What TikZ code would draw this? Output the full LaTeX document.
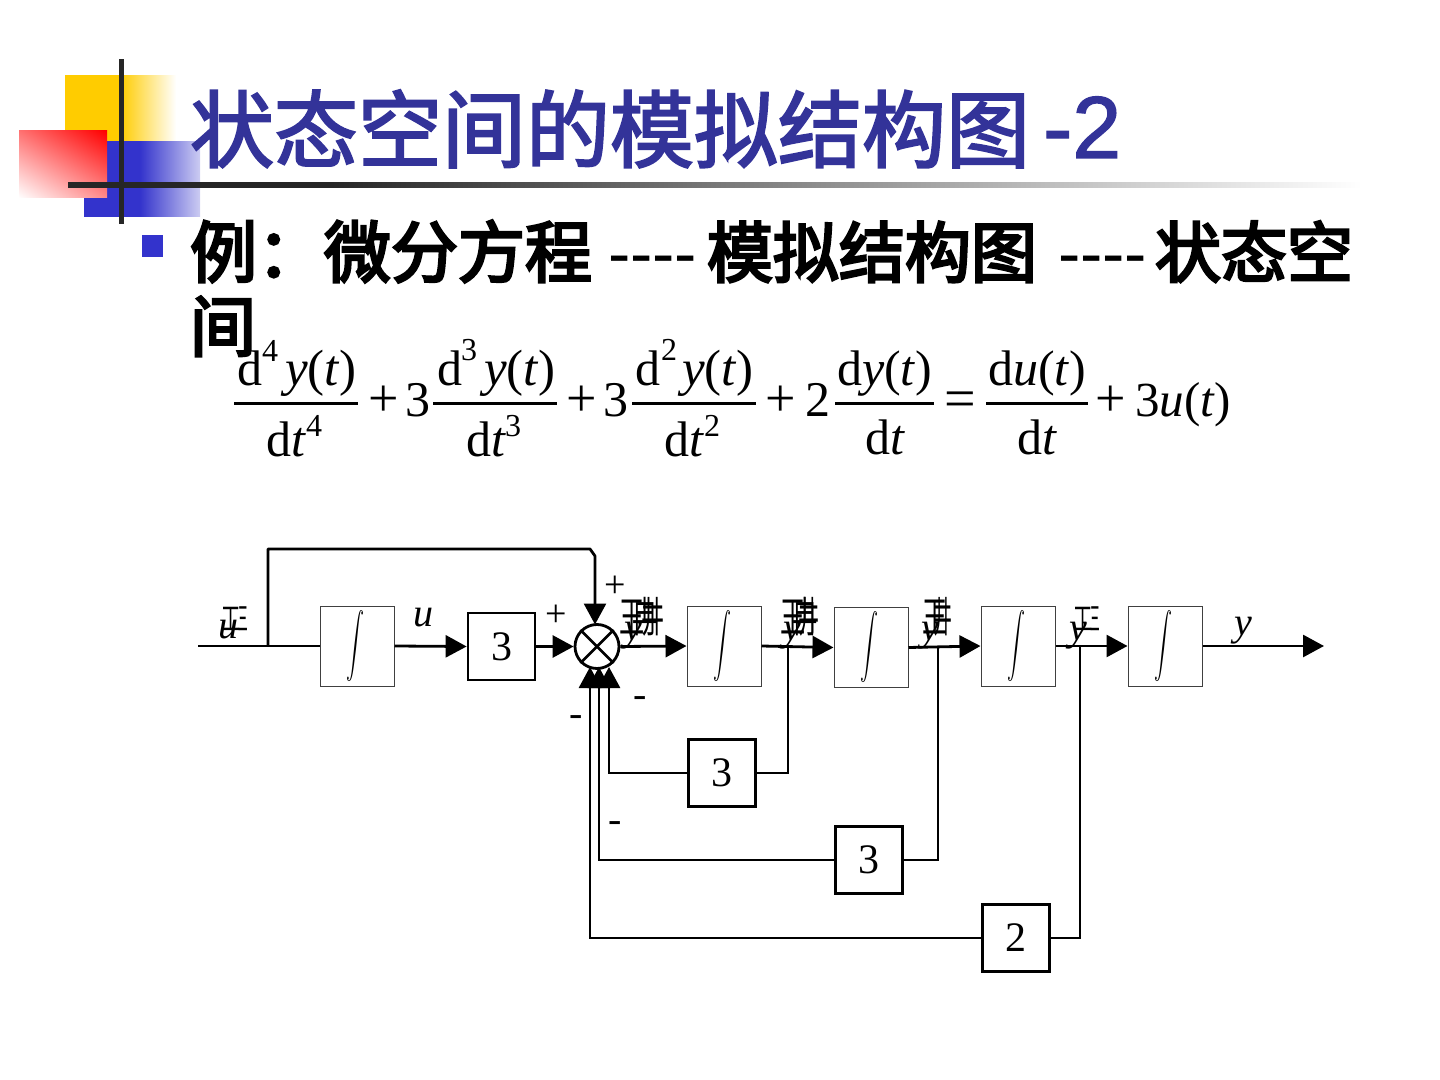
\documentclass[tikz,border=0pt]{standalone}
\usepackage{fontspec}
\usepackage{graphicx}
\usetikzlibrary{arrows.meta,shapes.misc,shadings}
\setmainfont{Liberation Serif}
\newfontfamily\cjkt[FakeBold=2.5]{Noto Sans CJK SC}
\newfontfamily\cjkbb[FakeBold=4]{Noto Sans CJK SC}
\newfontfamily\cjkl{Noto Sans CJK SC}
\newfontfamily\lsans[FakeBold=1.5]{Liberation Sans}
\newfontfamily\lsansn{Liberation Sans}
\newcommand{\cjkb}{\cjkbb}
\definecolor{titleblue}{HTML}{333399}
\definecolor{blockblue}{HTML}{3333CC}
\definecolor{blockblueL}{HTML}{CCCCF2}
\definecolor{blockyellow}{HTML}{FFCC00}
\definecolor{linedark}{HTML}{262626}
\definecolor{redA}{HTML}{FF7272}
\definecolor{redB}{HTML}{FF8A8A}
\pgfdeclarehorizontalshading{yelfade}{100bp}{color(0bp)=(blockyellow); color(50bp)=(blockyellow); color(75bp)=(white); color(100bp)=(white)}
\pgfdeclarehorizontalshading{bluefade}{100bp}{color(0bp)=(blockblue); color(49bp)=(blockblue); color(75bp)=(blockblueL); color(100bp)=(blockblueL)}
\pgfdeclarehorizontalshading{rulefade}{100bp}{color(0bp)=(linedark); color(35bp)=(linedark); color(75bp)=(white); color(100bp)=(white)}
\newcommand{\TT}[5]{\node[txt] (#1) at (#2,#3) {\fontsize{\dimexpr #4pt/2\relax}{\dimexpr #4pt/2\relax}\selectfont #5};}
\newcommand{\NS}[2]{\scalebox{#1}[1]{\cjkl #2}}
\newcommand{\yt}{\textit{y}(\textit{t})}
\newcommand{\ut}{\textit{u}(\textit{t})}
\tikzset{
  x=0.5pt,y=-0.5pt,
  txt/.style={anchor=base west,inner sep=0pt,outer sep=0pt},
  ln/.style={line width=1.4pt,black,line join=miter},
  arr/.style={ln,-{Triangle[length=10.5pt,width=11pt]}},
  intbox/.style={draw=black!75,line width=0.5pt,fill=white,minimum width=37pt,minimum height=40pt,inner sep=0pt},
  gainbox/.style={draw=black,line width=1.4pt,fill=white,minimum width=33.5pt,minimum height=33.5pt,inner sep=0pt,font=\fontsize{21pt}{21pt}\selectfont},
  sumnode/.style={circle,draw=black,line width=1.4pt,fill=white,minimum size=22pt,inner sep=0pt},
  fracbar/.style={line width=1.5pt,black},
  intsym/.style={xscale=0.9,yscale=1.6,inner sep=0pt}
}
\begin{document}
\begin{tikzpicture}
\useasboundingbox (0,0) rectangle (1440,1080);
% decoration
\shade[shading=yelfade] (65,76) rectangle (176,142);
\shade[shading=bluefade] (84,142) rectangle (200,217);
\shade[upper right=red,upper left=redA,lower left=white,lower right=redB] (19,131) rectangle (107,198);
\fill[linedark] (118.5,59) rectangle (123.5,224);
\shade[shading=rulefade] (68,182.5) rectangle (1362,187.5);
% title
\TT{t1}{190}{161}{84}{\color{titleblue}\cjkt 状态空间的模拟结构图}
\TT{t2}{1043}{158}{88}{\color{titleblue}\lsans -2}
% bullet
\fill[blockblue] (142,235) rectangle (163,257);
\TT{b1}{190}{277}{67}{\cjkb 例：微分方程}
\TT{b2}{608}{277}{67}{\lsansn ----}
\TT{b3}{707}{277}{66}{\cjkb 模拟结构图}
\TT{b4}{1058}{277}{67}{\lsansn ----}
\TT{b5}{1155}{277}{66}{\cjkb 状态空}
\TT{b6}{190}{351}{66}{\cjkb 间}
% equation
\draw[fracbar] (234,404) -- (358,404) (433,404) -- (557,404) (632,404) -- (756,404) (835,404) -- (934,404) (986,404) -- (1088,404);
\TT{e1}{237}{386}{50}{d}\TT{e2}{262}{362}{32}{4}\TT{e3}{285}{386}{51}{\yt}
\TT{e4}{266}{457}{50}{d\textit{t}}\TT{e5}{306}{437}{32}{4}
\TT{e6}{368}{416}{54}{+}\TT{e7}{405}{416}{50}{3}
\TT{e8}{437}{386}{50}{d}\TT{e9}{461}{361}{32}{3}\TT{e10}{484}{386}{51}{\yt}
\TT{e11}{466}{457}{50}{d\textit{t}}\TT{e12}{505}{437}{32}{3}
\TT{e13}{566}{416}{54}{+}\TT{e14}{603}{416}{50}{3}
\TT{e15}{635}{386}{50}{d}\TT{e16}{661}{361}{32}{2}\TT{e17}{682}{386}{51}{\yt}
\TT{e18}{664}{457}{50}{d\textit{t}}\TT{e19}{704}{437}{32}{2}
\TT{e20}{765}{416}{54}{+}\TT{e21}{805}{416}{50}{2}
\TT{e22}{837}{386}{50}{d\yt}\TT{e23}{865}{455}{50}{d\textit{t}}
\TT{e24}{944}{418}{56}{=}
\TT{e25}{988}{386}{50}{d\ut}\TT{e26}{1017}{455}{50}{d\textit{t}}
\TT{e27}{1095}{416}{54}{+}\TT{e28}{1135}{416}{49}{3\ut}
% diagram nodes
\node[intbox] (int0) at (357,646) {};
\node[intbox] (int1) at (724,646) {};
\node[intbox] (int2) at (871,647.5) {};
\node[intbox] (int3) at (1018,646) {};
\node[intbox] (int4) at (1165,646) {};
\node[intsym] (is0) at (355,646) {$\displaystyle\int$};
\node[intsym] (is1) at (722,646) {$\displaystyle\int$};
\node[intsym] (is2) at (869,647.5) {$\displaystyle\int$};
\node[intsym] (is3) at (1016,646) {$\displaystyle\int$};
\node[intsym] (is4) at (1163,646) {$\displaystyle\int$};
\node[gainbox] (g0) at (501.5,646.5) {3};
\node[gainbox] (g1) at (722,773) {3};
\node[gainbox] (g2) at (869,860) {3};
\node[gainbox] (g3) at (1016,938) {2};
\node[sumnode] (sum) at (597,646.5) {};
\draw[ln] (sum.north west) -- (sum.south east) (sum.north east) -- (sum.south west);
\coordinate (in) at (198,646);
\coordinate (j0) at (268,646);
\coordinate (out) at (1324,646);
\coordinate (j1) at (788,646);
\coordinate (j2) at (938,647);
\coordinate (j3) at (1080,646);
% connectors
\draw[ln] (in) -- (int0.west);
\draw[arr,line join=round] (j0) -- (268,549) -- (590,549) -- (595,556) -- (595,624.5);
\draw[arr] (int0.east) -- (g0.west);
\draw[arr] (g0.east) -- (sum.west);
\draw[arr] (sum.east) -- (int1.west);
\draw[arr] (int1.east) -- (int2.west);
\draw[arr] (int2.east) -- (int3.west);
\draw[arr] (int3.east) -- (int4.west);
\draw[arr] (int4.east) -- (out);
\draw[ln] (j1) |- (g1.east);
\draw[ln] (j2) |- (g2.east);
\draw[ln] (j3) |- (g3.east);
\draw[arr] (g1.west) -- (609,773) -- (609,667);
\draw[arr] (g2.west) -- (599,860) -- (599,667);
\draw[arr] (g3.west) -- (590,938) -- (590,667);
% signs
\TT{s1}{604}{597}{38}{+}
\TT{s2}{545}{626}{38}{+}
\TT{s3}{633}{707}{40}{-}
\TT{s4}{569}{726}{40}{-}
\TT{s5}{608}{832}{40}{-}
\TT{l1}{413}{626}{40}{\textit{u}}
\TT{l2}{1234}{635}{40}{\textit{y}}
% overprinted labels
\TT{a1}{218}{638}{40}{\textit{u}}
\TT{a2}{221}{630}{32}{\NS{0.6}{工}}
\TT{a3}{238}{630}{32}{\NS{0.3}{三}}
\TT{c1}{624}{640}{40}{\textit{y}}
\TT{c2}{619}{632}{42}{\NS{0.6}{王}}
\TT{c3}{632}{632}{42}{\NS{0.6}{冉}}
\TT{c4}{641}{632}{42}{\NS{0.55}{井}}
\TT{d1}{783}{640}{40}{\textit{y}}
\TT{d2}{780}{632}{42}{\NS{0.6}{王}}
\TT{d3}{792}{632}{42}{\NS{0.6}{冉}}
\TT{d4}{798}{632}{42}{\NS{0.5}{井}}
\TT{f1}{921}{640}{40}{\textit{y}}
\TT{f2}{922}{632}{42}{\NS{0.6}{王}}
\TT{f3}{933}{632}{42}{\NS{0.45}{井}}
\TT{h1}{1069}{640}{40}{\textit{y}}
\TT{h2}{1073}{630}{32}{\NS{0.6}{工}}
\TT{h3}{1090}{630}{32}{\NS{0.3}{三}}
\end{tikzpicture}
\end{document}
